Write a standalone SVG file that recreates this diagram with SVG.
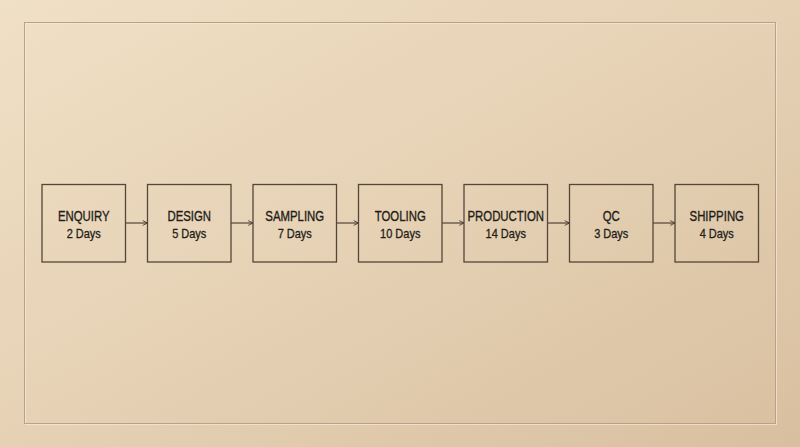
<svg xmlns="http://www.w3.org/2000/svg" width="800" height="447" viewBox="0 0 800 447">
  <defs>
    <linearGradient id="bg" x1="0" y1="0" x2="1" y2="1">
      <stop offset="0" stop-color="#f0e0c6"/>
      <stop offset="0.5" stop-color="#e6d1b4"/>
      <stop offset="1" stop-color="#d8bfa0"/>
    </linearGradient>
    <marker id="arr" viewBox="0 0 10 10" refX="9" refY="5" markerWidth="6" markerHeight="9" markerUnits="userSpaceOnUse" orient="auto">
      <path d="M1,1 L9,5 L1,9" fill="none" stroke="#3e3228" stroke-width="1.4"/>
    </marker>
    <style>
      .box{fill:none;stroke:#55463a;stroke-width:1.3}
      .t{font-family:"Liberation Sans",Arial,sans-serif;font-size:15px;fill:#231d18;stroke:#231d18;stroke-width:0.35;text-anchor:middle}
      .d{font-family:"Liberation Sans",Arial,sans-serif;font-size:12.5px;fill:#231d18;stroke:#231d18;stroke-width:0.3;text-anchor:middle}
      .c{fill:none;stroke:#45382d;stroke-width:1.1}
    </style>
  </defs>
  <rect width="800" height="447" fill="url(#bg)"/>
  <rect x="25.5" y="23.5" width="751" height="401" fill="none" stroke="#f6ead8" stroke-width="1" opacity="0.7"/>
  <rect x="24.5" y="22.5" width="751" height="401" fill="none" stroke="#b8a184" stroke-width="1"/>

  <g id="connectors">
    <line class="c" x1="125.5" y1="223" x2="147.5" y2="223" marker-end="url(#arr)"/>
    <line class="c" x1="231" y1="223" x2="253" y2="223" marker-end="url(#arr)"/>
    <line class="c" x1="336.5" y1="223" x2="358.5" y2="223" marker-end="url(#arr)"/>
    <line class="c" x1="442" y1="223" x2="464" y2="223" marker-end="url(#arr)"/>
    <line class="c" x1="547.5" y1="223" x2="569.5" y2="223" marker-end="url(#arr)"/>
    <line class="c" x1="653" y1="223" x2="675" y2="223" marker-end="url(#arr)"/>
  </g>

  <g id="enquiry">
    <rect class="box" x="42" y="184.5" width="83.5" height="77.5"/>
    <text class="t" transform="translate(83.75 221) scale(0.76 1)">ENQUIRY</text>
    <text class="d" transform="translate(83.75 238) scale(0.88 1)">2 Days</text>
  </g>
  <g id="design">
    <rect class="box" x="147.5" y="184.5" width="83.5" height="77.5"/>
    <text class="t" transform="translate(189.25 221) scale(0.76 1)">DESIGN</text>
    <text class="d" transform="translate(189.25 238) scale(0.88 1)">5 Days</text>
  </g>
  <g id="sampling">
    <rect class="box" x="253" y="184.5" width="83.5" height="77.5"/>
    <text class="t" transform="translate(294.75 221) scale(0.76 1)">SAMPLING</text>
    <text class="d" transform="translate(294.75 238) scale(0.88 1)">7 Days</text>
  </g>
  <g id="tooling">
    <rect class="box" x="358.5" y="184.5" width="83.5" height="77.5"/>
    <text class="t" transform="translate(400.25 221) scale(0.76 1)">TOOLING</text>
    <text class="d" transform="translate(400.25 238) scale(0.88 1)">10 Days</text>
  </g>
  <g id="production">
    <rect class="box" x="464" y="184.5" width="83.5" height="77.5"/>
    <text class="t" transform="translate(505.75 221) scale(0.76 1)">PRODUCTION</text>
    <text class="d" transform="translate(505.75 238) scale(0.88 1)">14 Days</text>
  </g>
  <g id="qc">
    <rect class="box" x="569.5" y="184.5" width="83.5" height="77.5"/>
    <text class="t" transform="translate(611.25 221) scale(0.76 1)">QC</text>
    <text class="d" transform="translate(611.25 238) scale(0.88 1)">3 Days</text>
  </g>
  <g id="shipping">
    <rect class="box" x="675" y="184.5" width="83.5" height="77.5"/>
    <text class="t" transform="translate(716.75 221) scale(0.76 1)">SHIPPING</text>
    <text class="d" transform="translate(716.75 238) scale(0.88 1)">4 Days</text>
  </g>
</svg>
